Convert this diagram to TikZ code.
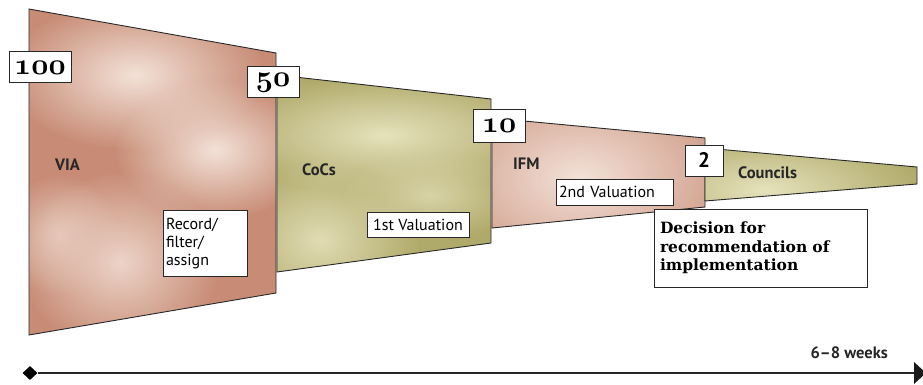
\documentclass[tikz,border=0pt]{standalone}
\usepackage{fontspec}
\newfontfamily\labfont{PT Sans}
\newfontfamily\decfont{DejaVu Serif}
\usetikzlibrary{shapes.geometric,arrows.meta,fadings}
\tikzfading[name=softblob, inner color=transparent!0, outer color=transparent!100]
\definecolor{pinkbase}{RGB}{200,140,118}
\definecolor{pinklight}{RGB}{243,226,216}
\definecolor{olivebase}{RGB}{176,170,106}
\definecolor{olivelight}{RGB}{230,226,188}
\definecolor{edgegray}{RGB}{40,40,40}
\newcommand{\osnum}[1]{\scalebox{1.2}{\fontsize{24.88}{25}\selectfont\usefont{OML}{cmm}{b}{it}#1}}
\begin{document}
\begin{tikzpicture}[x=1pt,y=-1pt,
  edge/.style={draw=edgegray,line width=0.9pt,line join=miter},
  blob/.style={fill=#1,path fading=softblob},
  numbox/.style={draw=edgegray,fill=white,line width=1pt,inner sep=0pt},
  txtbox/.style={draw=edgegray,fill=white,line width=0.9pt,inner ysep=0pt,align=left},
  stage/.style={font=\labfont\bfseries\fontsize{16.5}{18}\selectfont,text=black!85,inner sep=0pt,anchor=west},
  plain/.style={font=\labfont\fontsize{16}{18}\selectfont}
]
\useasboundingbox (0,0) rectangle (923,385);

% ---------- VIA ----------
\begin{scope}
\clip (29,9) -- (276,53) -- (276,293) -- (29,335) -- cycle;
\fill[pinkbase] (0,0) rectangle (300,340);
\fill[blob=pinklight] (135,75) ellipse (130 and 75);
\fill[blob=pinklight] (215,150) ellipse (100 and 70);
\fill[blob=pinklight!85!pinkbase] (120,262) ellipse (100 and 90);
\fill[blob=pinklight!70!pinkbase] (60,235) ellipse (60 and 60);
\end{scope}
\draw[edge] (29,9) -- (276,53) -- (276,293) -- (29,335) -- cycle;

% ---------- CoCs ----------
\begin{scope}
\clip (277,75) -- (491,99) -- (491,243) -- (277,272) -- cycle;
\fill[olivebase] (260,60) rectangle (500,280);
\fill[blob=olivelight] (385,135) ellipse (170 and 60);
\fill[blob=olivelight!90!olivebase] (320,240) ellipse (100 and 80);
\fill[blob=olivelight!75!olivebase] (430,195) ellipse (90 and 45);
\end{scope}
\draw[edge] (277,75) -- (491,99) -- (491,243) -- (277,272) -- cycle;

% ---------- IFM ----------
\begin{scope}
\clip (492,118) -- (705,138) -- (705,207) -- (492,228) -- cycle;
\fill[pinkbase] (480,110) rectangle (710,235);
\fill[blob=pinklight] (580,178) ellipse (190 and 120);
\end{scope}
\draw[edge] (492,118) -- (705,138) -- (705,207) -- (492,228) -- cycle;

% ---------- Councils ----------
\begin{scope}
\clip (705,148) -- (917,167) -- (917,184) -- (705,201) -- cycle;
\fill[olivebase] (700,140) rectangle (920,205);
\fill[blob=olivelight] (765,190) ellipse (160 and 60);
\end{scope}
\draw[edge] (705,148) -- (917,167) -- (917,184) -- (705,201) -- cycle;

% ---------- stage labels ----------
\node[stage] (via) at (55,165) {VIA};
\node[stage] (cocs) at (302,170) {CoCs};
\node[stage] (ifm) at (513,164) {IFM};
\node[stage] (councils) at (738,173) {Councils};

% ---------- number boxes ----------
\node[numbox,minimum width=62pt,minimum height=31pt] (n100) at (40,67.5) {\osnum{100}};
\node[numbox,minimum width=52pt,minimum height=31pt] (n50) at (273,82.5) {\osnum{50}};
\node[numbox,minimum width=52pt,minimum height=32pt] (n10) at (499,126) {\osnum{10}};
\node[numbox,minimum width=38pt,minimum height=31pt] (n2) at (704,160.5)
  {\labfont\bfseries\fontsize{21}{21}\selectfont 2};

% ---------- text boxes ----------
\node[txtbox,plain,text width=78pt,inner xsep=3pt,minimum height=66pt] (rec) at (205,243)
  {Record/\\filter/\\assign};
\node[txtbox,plain,inner xsep=3pt,minimum width=102pt,minimum height=25pt] (val1) at (418,224.5)
  {1st Valuation};
\node[txtbox,plain,inner xsep=3pt,minimum height=26pt,text width=111pt] (val2) at (614.5,192)
  {2nd Valuation};
\node[txtbox,text width=201pt,inner xsep=6pt,minimum height=78pt,
  font=\decfont\bfseries\fontsize{15.5}{18.5}\selectfont] (dec) at (760.5,248)
  {Decision for\\recommendation of\\implementation};

% ---------- timeline ----------
\node[diamond,fill=black,minimum width=15pt,minimum height=14pt,inner sep=0pt] (start) at (30,373) {};
\coordinate (end) at (914,373);
\draw[line width=1.4pt,draw=black!85] (start) -- (end);
\fill[black!90] (end) ++(0,-11) -- ++(12,11) -- ++(-12,11) -- cycle;
\node[font=\labfont\bfseries\fontsize{16.5}{18}\selectfont,text=black!85,anchor=base east,inner sep=0pt] (weeks) at (888,358) {6–8 weeks};
\end{tikzpicture}
\end{document}
